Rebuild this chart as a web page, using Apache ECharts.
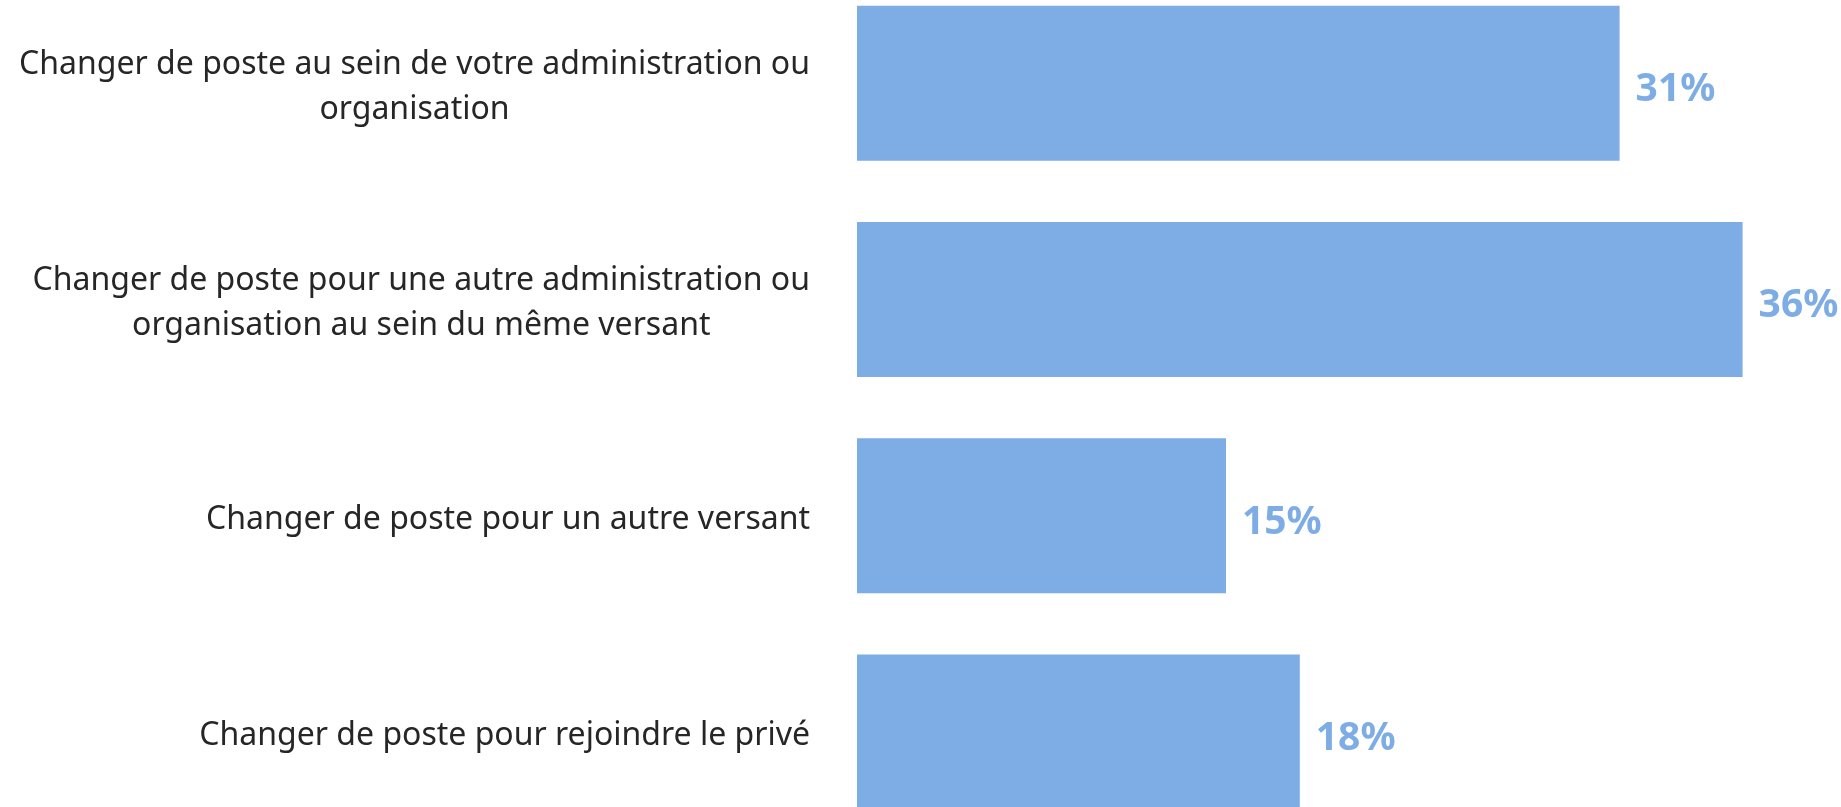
<!DOCTYPE html>
<html>
<head>
<meta charset="utf-8">
<script src="https://cdn.jsdelivr.net/npm/echarts@6/dist/echarts.min.js"></script>
<style>
  html, body { margin: 0; padding: 0; background: #fff; }
  #chart { width: 1841px; height: 807px; }
</style>
</head>
<body>
<div id="chart"></div>
<script>
// catégories (haut -> bas) et pourcentages
var categories = [
  "Changer de poste au sein de votre administration ou\norganisation",
  "Changer de poste pour une autre administration ou\norganisation au sein du même versant",
  "Changer de poste pour un autre versant",
  "Changer de poste pour rejoindre le privé"
];
var values = [31, 36, 15, 18];

var barColor = "#7eade6";

var chart = echarts.init(document.getElementById("chart"));
var option = {
  backgroundColor: "#ffffff",
  animation: false,
  grid: {
    left: 857,
    right: 0,
    top: -25,
    bottom: -33,
    containLabel: false,
    outerBoundsMode: "none"
  },
  xAxis: {
    type: "value",
    min: 0,
    max: 40,
    show: false
  },
  yAxis: {
    type: "category",
    inverse: true,
    data: categories,
    axisLine: { show: false },
    axisTick: { show: false },
    splitLine: { show: false },
    axisLabel: {
      margin: 47,
      align: "right",
      padding: [9, 0, 0, 0],
      formatter: function (v) {
        // chaque ligne centrée dans le bloc aligné à droite
        return v.split("\n").map(function (l) { return "{c|" + l + "}"; }).join("\n");
      },
      rich: {
        c: {
          align: "center",
          fontFamily: "Noto Sans",
          fontSize: 32,
          lineHeight: 45,
          color: "#262626"
        }
      }
    }
  },
  series: [
    {
      type: "bar",
      data: values,
      barWidth: 155,
      itemStyle: { color: barColor },
      label: {
        show: true,
        position: "right",
        distance: 16,
        offset: [0, 7],
        formatter: "{c}%",
        fontFamily: "Noto Sans",
        fontWeight: "bold",
        fontSize: 39,
        color: barColor
      }
    }
  ]
};
chart.setOption(option);
window.onresize = chart.resize;
</script>
</body>
</html>
